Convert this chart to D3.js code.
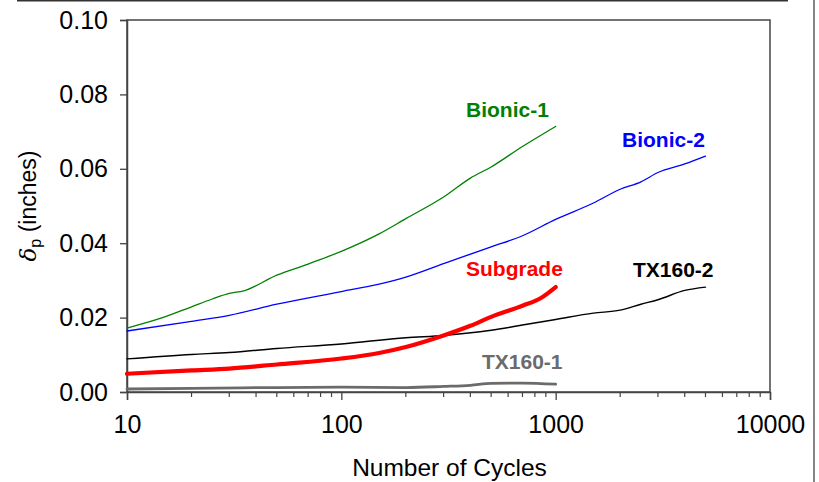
<!DOCTYPE html>
<html>
<head>
<meta charset="utf-8">
<script src="https://cdn.jsdelivr.net/npm/d3@7/dist/d3.min.js"></script>
<style>
  html, body { margin: 0; padding: 0; background: #fff; }
  svg { display: block; }
  text { font-family: "Liberation Sans", Arial, sans-serif; }
</style>
</head>
<body>
<svg id="chart" width="819" height="482"></svg>
<script>
// ---- data ----
const xTickValues = [10, 100, 1000, 10000];
const yTickValues = [0, 0.02, 0.04, 0.06, 0.08, 0.10];

const bionic1Cycles = [10, 15, 20, 25, 30, 35, 50, 70, 100, 150, 200, 300, 400, 500, 700, 1000];
const bionic1Values = [0.0172, 0.0202, 0.0229, 0.0250, 0.0265, 0.0272, 0.0314, 0.0344, 0.0378, 0.0425, 0.0466, 0.0524, 0.0575, 0.0605, 0.0660, 0.0714];

const bionic2Cycles = [10, 20, 30, 50, 100, 150, 200, 300, 500, 700, 1000, 1500, 2000, 2500, 3000, 4000, 5000];
const bionic2Values = [0.0164, 0.0190, 0.0206, 0.0236, 0.0270, 0.0290, 0.0309, 0.0345, 0.0390, 0.0420, 0.0464, 0.0508, 0.0545, 0.0565, 0.0590, 0.0613, 0.0634];

const tx2Cycles = [10, 20, 30, 50, 100, 200, 300, 500, 700, 1000, 1500, 2000, 2500, 3000, 4000, 5000];
const tx2Values = [0.0089, 0.0101, 0.0106, 0.0117, 0.0129, 0.0146, 0.0152, 0.0166, 0.0180, 0.0195, 0.0212, 0.0220, 0.0236, 0.0248, 0.0273, 0.0282];

const subgradeCycles = [10, 20, 30, 50, 100, 150, 200, 300, 400, 500, 700, 850, 1000];
const subgradeValues = [0.0049, 0.0058, 0.0063, 0.0074, 0.0090, 0.0105, 0.0121, 0.0152, 0.0178, 0.0202, 0.0232, 0.0252, 0.0282];

const tx1Cycles = [10, 20, 50, 100, 200, 300, 400, 500, 700, 1000];
const tx1Values = [0.0008, 0.0010, 0.0012, 0.0013, 0.0012, 0.0015, 0.0018, 0.0023, 0.0024, 0.0021];

const seriesNames = ["Bionic-1", "Bionic-2", "Subgrade", "TX160-2", "TX160-1"];

// ---- layout ----
const svg = d3.select("#chart");
const mLeft = 127, mRight = 770, mTop = 20, mBottom = 392;

const x = d3.scaleLog().domain([10, 10000]).range([mLeft, mRight]);
const y = d3.scaleLinear().domain([0, 0.10]).range([mBottom, mTop]);

// outer frame fragments
svg.append("line").attr("x1", 17).attr("x2", 788).attr("y1", 0.75).attr("y2", 0.75)
  .attr("stroke", "#333").attr("stroke-width", 1.5);
svg.append("line").attr("x1", 814).attr("x2", 814).attr("y1", 0).attr("y2", 482)
  .attr("stroke", "#333").attr("stroke-width", 1.2);

// plot frame
svg.append("rect").attr("x", mLeft).attr("y", mTop).attr("width", mRight - mLeft).attr("height", mBottom - mTop)
  .attr("fill", "none").attr("stroke", "#444").attr("stroke-width", 1.5);

// x axis
const xAxis = d3.axisBottom(x).tickValues(xTickValues).tickFormat(d3.format("d")).tickSize(8).tickPadding(15);
const gx = svg.append("g").attr("transform", `translate(0,${mBottom})`).call(xAxis);
gx.select(".domain").attr("stroke", "#444").attr("stroke-width", 1.5);
gx.selectAll(".tick line").attr("stroke", "#444").attr("stroke-width", 1.3);
gx.selectAll(".tick text").attr("font-size", 25).attr("fill", "#000")
  .attr("font-family", "Liberation Sans, Arial, sans-serif");

// minor x ticks
const minor = [];
[10, 100, 1000].forEach(d => { for (let k = 2; k <= 9; k++) minor.push(d * k); });
svg.append("g").selectAll("line").data(minor).join("line")
  .attr("x1", d => x(d)).attr("x2", d => x(d))
  .attr("y1", mBottom).attr("y2", mBottom + 5)
  .attr("stroke", "#444").attr("stroke-width", 1.2);

// y axis
const yAxis = d3.axisLeft(y).tickValues(yTickValues).tickFormat(d3.format(".2f")).tickSize(7).tickPadding(12);
const gy = svg.append("g").attr("transform", `translate(${mLeft},0)`).call(yAxis);
gy.select(".domain").attr("stroke", "#444").attr("stroke-width", 1.5);
gy.selectAll(".tick line").attr("stroke", "#444").attr("stroke-width", 1.3);
gy.selectAll(".tick text").attr("font-size", 25).attr("fill", "#000")
  .attr("font-family", "Liberation Sans, Arial, sans-serif");

// axis titles
svg.append("text").attr("x", (mLeft + mRight) / 2 + 1).attr("y", 476).attr("text-anchor", "middle")
  .attr("font-size", 24.5).attr("fill", "#000").text("Number of Cycles");

const yt = svg.append("text").attr("transform", `translate(36,${(mTop + mBottom) / 2}) rotate(-90)`)
  .attr("text-anchor", "middle").attr("font-size", 23).attr("fill", "#000");
yt.append("tspan").attr("font-style", "italic").attr("font-family", "DejaVu Serif, serif").text("δ");
yt.append("tspan").attr("font-size", 16).attr("dy", 5).text("p");
yt.append("tspan").attr("dy", -5).text(" (inches)");

// series
const line = d3.line().x(d => x(d[0])).y(d => y(d[1])).curve(d3.curveMonotoneX);
const zip = (a, b) => a.map((v, i) => [v, b[i]]);

const series = [
  { name: seriesNames[4], data: zip(tx1Cycles, tx1Values), color: "#6b6b6b", width: 2.8 },
  { name: seriesNames[3], data: zip(tx2Cycles, tx2Values), color: "#000000", width: 1.4 },
  { name: seriesNames[2], data: zip(subgradeCycles, subgradeValues), color: "#ff0000", width: 4.2 },
  { name: seriesNames[1], data: zip(bionic2Cycles, bionic2Values), color: "#0000ff", width: 1.3 },
  { name: seriesNames[0], data: zip(bionic1Cycles, bionic1Values), color: "#008000", width: 1.3 }
];

svg.append("g").selectAll("path").data(series).join("path")
  .attr("d", d => line(d.data))
  .attr("fill", "none")
  .attr("stroke", d => d.color)
  .attr("stroke-width", d => d.width)
  .attr("stroke-linejoin", "round")
  .attr("stroke-linecap", "round");

// series labels
const labels = [
  { text: seriesNames[0], x: 466, y: 117, color: "#008000" },
  { text: seriesNames[1], x: 622, y: 147, color: "#0000ff" },
  { text: seriesNames[2], x: 466, y: 276, color: "#ff0000" },
  { text: seriesNames[3], x: 633, y: 277, color: "#000000" },
  { text: seriesNames[4], x: 482, y: 369, color: "#6b6b6b" }
];
svg.append("g").selectAll("text").data(labels).join("text")
  .attr("x", d => d.x).attr("y", d => d.y)
  .attr("font-size", 21).attr("font-weight", "bold")
  .attr("fill", d => d.color).text(d => d.text);
</script>
</body>
</html>
